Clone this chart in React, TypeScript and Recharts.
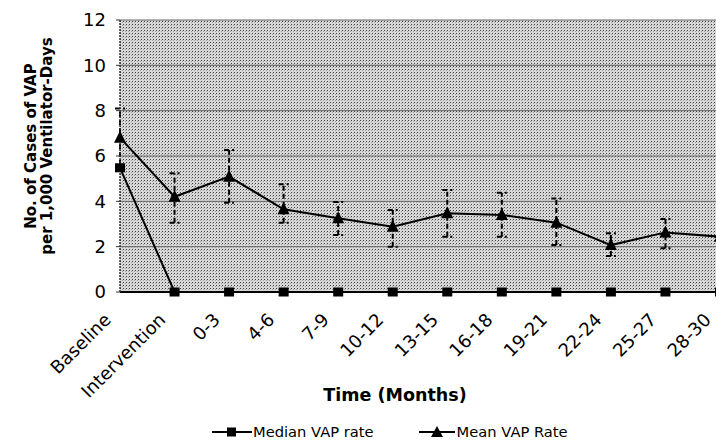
import {
  LineChart,
  Line,
  XAxis,
  YAxis,
  CartesianGrid,
  ErrorBar,
  Legend,
  Label,
} from "recharts";

const categories = [
  "Baseline",
  "Intervention",
  "0-3",
  "4-6",
  "7-9",
  "10-12",
  "13-15",
  "16-18",
  "19-21",
  "22-24",
  "25-27",
  "28-30",
];
const medianRate = [5.48, 0, 0, 0, 0, 0, 0, 0, 0, 0, 0, 0];
const meanRate = [6.81, 4.2, 5.09, 3.65, 3.25, 2.88, 3.47, 3.4, 3.06, 2.07, 2.63, 2.44];
const meanUpper = [8.1, 5.24, 6.26, 4.75, 3.97, 3.62, 4.5, 4.38, 4.13, 2.59, 3.22, 2.44];
const meanLower = [5.6, 3.06, 3.94, 3.06, 2.51, 2.0, 2.44, 2.44, 2.07, 1.59, 1.93, 2.44];
const yTicks = [0, 2, 4, 6, 8, 10, 12];

const FONT = "'DejaVu Sans', Verdana, sans-serif";

const data = categories.map((name, i) => ({
  name,
  median: medianRate[i],
  mean: meanRate[i],
  meanErr: [meanRate[i] - meanLower[i], meanUpper[i] - meanRate[i]],
}));

const SquareDot = (props: any) => {
  const { cx, cy, index } = props;
  if (cx == null || cy == null) return null;
  return <rect key={`sq-${index}`} x={cx - 5} y={cy - 4.5} width={10} height={9} fill="#000" />;
};

const TriangleDot = (props: any) => {
  const { cx, cy, index } = props;
  if (cx == null || cy == null) return null;
  return (
    <polygon
      key={`tri-${index}`}
      points={`${cx},${cy - 7} ${cx + 6},${cy + 5} ${cx - 6},${cy + 5}`}
      fill="#000"
    />
  );
};

const XTick = (props: any) => {
  const { x, y, payload } = props;
  const ax = x - 8;
  const ay = y + 29;
  return (
    <text
      x={ax}
      y={ay}
      transform={`rotate(-45, ${ax}, ${ay})`}
      textAnchor="end"
      fontSize={18}
      fontFamily={FONT}
      fill="#000"
    >
      {payload.value}
    </text>
  );
};

const YTitle = () => (
  <text
    transform="translate(36,146) rotate(-90)"
    textAnchor="middle"
    fontSize={15}
    fontWeight="bold"
    fontFamily={FONT}
    fill="#000"
  >
    <tspan x={0} dy={0}>No. of Cases of VAP</tspan>
    <tspan x={0} dy={15.5}>per 1,000 Ventilator-Days</tspan>
  </text>
);

const XTitle = () => (
  <text
    x={395}
    y={401}
    textAnchor="middle"
    fontSize={17.5}
    fontWeight="bold"
    fontFamily={FONT}
    fill="#000"
  >
    Time (Months)
  </text>
);

const LegendContent = () => (
  <div
    style={{
      display: "flex",
      alignItems: "center",
      fontFamily: FONT,
      fontSize: 14.7,
      color: "#000",
      whiteSpace: "nowrap",
    }}
  >
    <svg width={40} height={14}>
      <line x1={0} y1={7} x2={40} y2={7} stroke="#000" strokeWidth={2} />
      <rect x={15} y={2.5} width={9} height={9} fill="#000" />
    </svg>
    <span style={{ marginLeft: 1 }}>Median VAP rate</span>
    <svg width={36} height={14} style={{ marginLeft: 45 }}>
      <line x1={0} y1={7} x2={36} y2={7} stroke="#000" strokeWidth={2} />
      <polygon points="18,1 24,12 12,12" fill="#000" />
    </svg>
    <span style={{ marginLeft: 2 }}>Mean VAP Rate</span>
  </div>
);

export default function App() {
  return (
    <div
      style={{
        position: "absolute",
        left: 0,
        top: 0,
        width: 716,
        height: 443,
        overflow: "hidden",
        background: "#fff",
      }}
    >
      <LineChart
        width={730}
        height={443}
        data={data}
        margin={{ top: 20, right: 10, left: 0, bottom: 0 }}
      >
        <defs>
          <pattern id="stipple" width="3" height="3" patternUnits="userSpaceOnUse">
            <rect width="3" height="3" fill="#d8d8d8" />
            <rect x="0" y="0" width="1" height="1" fill="#404040" />
            <rect x="2" y="1" width="1" height="1" fill="#a0a0a0" />
          </pattern>
        </defs>
        <CartesianGrid
          vertical={false}
          fill="url(#stipple)"
          stroke="#666"
          strokeWidth={1}
        />
        <XAxis
          dataKey="name"
          type="category"
          scale="point"
          padding={{ left: 0, right: 0 }}
          height={151}
          tickSize={0}
          tickMargin={0}
          tickLine={false}
          axisLine={{ stroke: "#000", strokeWidth: 2 }}
          tick={<XTick />}
          interval={0}
        >
          <Label content={<XTitle />} />
        </XAxis>
        <YAxis
          domain={[0, 12]}
          ticks={yTicks}
          width={120}
          tickSize={4}
          tickMargin={10}
          tickLine={{ stroke: "#333" }}
          axisLine={{ stroke: "#333", strokeWidth: 1.5, strokeDasharray: "2 1" }}
          tick={{ fontSize: 18, fill: "#000", fontFamily: FONT }}
        >
          <Label content={<YTitle />} />
        </YAxis>
        <Line
          dataKey="median"
          stroke="#000"
          strokeWidth={2}
          dot={<SquareDot />}
          activeDot={false}
          isAnimationActive={false}
          legendType="square"
        />
        <Line
          dataKey="mean"
          stroke="#000"
          strokeWidth={2}
          dot={<TriangleDot />}
          activeDot={false}
          isAnimationActive={false}
          legendType="triangle"
        >
          <ErrorBar
            dataKey="meanErr"
            direction="y"
            width={5}
            stroke="#000"
            strokeWidth={2}
            strokeDasharray="5 3"
            isAnimationActive={false}
          />
        </Line>
        <Legend
          layout="horizontal"
          verticalAlign="middle"
          align="center"
          content={<LegendContent />}
          wrapperStyle={{ top: 423, left: 212, width: 440 }}
        />
      </LineChart>
    </div>
  );
}
